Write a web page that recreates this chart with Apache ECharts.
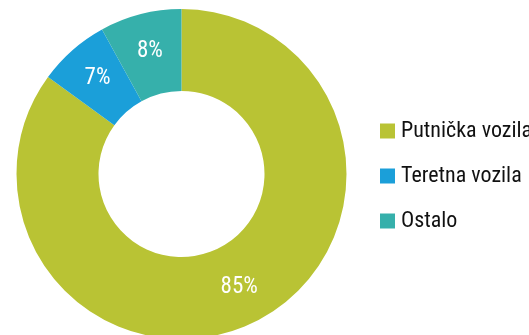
<!DOCTYPE html>
<html>
<head>
<meta charset="utf-8">
<script src="https://cdn.jsdelivr.net/npm/echarts@6/dist/echarts.min.js"></script>
<style>html,body{margin:0;padding:0;background:#fff}#c{width:529px;height:335px}</style>
</head>
<body>
<div id="c"></div>
<script>
var categories = ['Putnička vozila', 'Teretna vozila', 'Ostalo'];
var values = [85, 7, 8];
var colors = ['#b9c334', '#1b9fd9', '#36b0ab'];

var FONT = '"Roboto Condensed", sans-serif';
var chart = echarts.init(document.getElementById('c'), null, {renderer: 'canvas'});
chart.setOption({
  animation: false,
  color: colors,
  legend: {
    orient: 'vertical',
    left: 380,
    top: 120,
    padding: 0,
    itemWidth: 15,
    itemHeight: 15,
    itemGap: 23,
    icon: 'rect',
    data: categories,
    textStyle: {fontFamily: FONT, fontSize: 22, lineHeight: 15, color: '#111111', padding: [0, 0, 0, 1]}
  },
  series: [{
    type: 'pie',
    center: [181.5, 174],
    radius: [83, 165],
    startAngle: 90,
    clockwise: true,
    avoidLabelOverlap: false,
    label: {
      position: 'inside',
      formatter: '{c}%',
      color: '#ffffff',
      fontFamily: FONT,
      fontSize: 23
    },
    labelLine: {show: false},
    emphasis: {disabled: true},
    data: categories.map(function (n, i) { return {name: n, value: values[i]}; })
  }]
});
</script>
</body>
</html>
